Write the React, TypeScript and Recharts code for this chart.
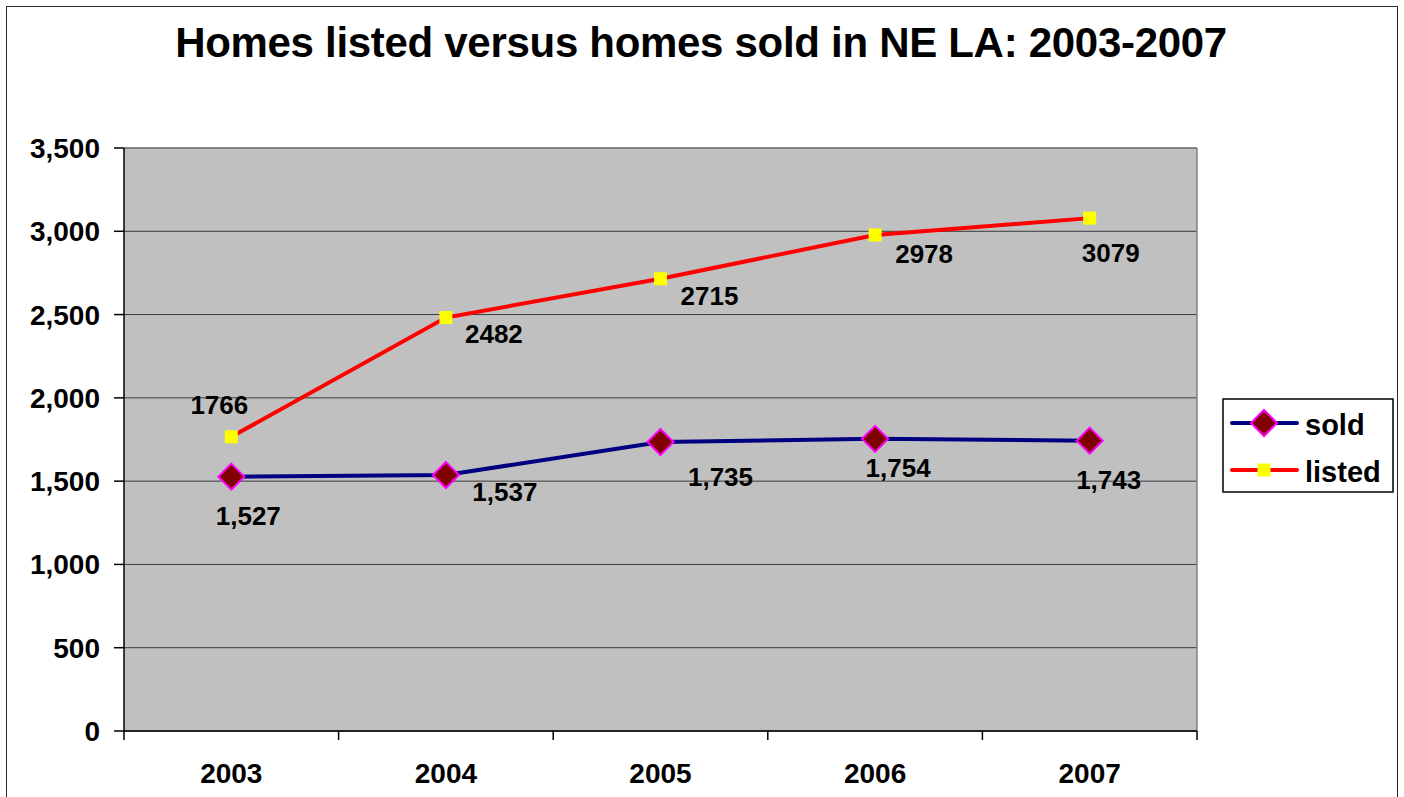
import React from 'react'
import { LineChart, Line, XAxis, YAxis, CartesianGrid, ReferenceLine, LabelList } from 'recharts'

const years = ['2003', '2004', '2005', '2006', '2007']
const sold = [1527, 1537, 1735, 1754, 1743]
const listed = [1766, 2482, 2715, 2978, 3079]
const yTicks = [0, 500, 1000, 1500, 2000, 2500, 3000, 3500]

// the labels were dragged around by hand in the original, so nudge each one
const soldLabelShift = [[17, 39], [59, 17], [60, 35], [23, 29], [19, 39]]
const listedLabelShift = [[-12, -32], [48, 16], [49, 17], [49, 19], [21, 35]]

const data = years.map((year, i) => ({ year, sold: sold[i], listed: listed[i] }))

const FONT = '"Liberation Sans", Arial, Helvetica, sans-serif'
const fmt = (v: number) => v.toLocaleString('en-US')

const W = 1404
const H = 797
const M = { top: 148, right: 207, left: 14, bottom: 0 }
const Y_W = 110
const X_H = 66
const plotW = W - M.left - M.right - Y_W
const halfBand = plotW / years.length / 2

function Diamond({ cx, cy, r = 13 }: { cx: number; cy: number; r?: number }) {
  return (
    <polygon
      points={`${cx},${cy - r} ${cx + r},${cy} ${cx},${cy + r} ${cx - r},${cy}`}
      fill="#800000"
      stroke="#FF00FF"
      strokeWidth={2}
    />
  )
}

function Square({ cx, cy, s = 13 }: { cx: number; cy: number; s?: number }) {
  return <rect x={cx - s / 2} y={cy - s / 2} width={s} height={s} fill="#FFFF00" />
}

const makeLabel = (shift: number[][], withComma: boolean) => (props: any) => {
  const { x, y, value, index } = props
  const [dx, dy] = shift[index] || [0, 0]
  return (
    <text
      key={`lbl-${index}`}
      x={x + dx}
      y={y + dy}
      textAnchor="middle"
      dominantBaseline="central"
      fontFamily={FONT}
      fontWeight="bold"
      fontSize={26}
      fill="#000"
    >
      {withComma ? fmt(value) : String(value)}
    </text>
  )
}

// year label, plus the little tick marks that sit between the categories
function YearTick(props: any) {
  const { x, y, payload, index } = props
  const y0 = y
  return (
    <g>
      <line x1={x - halfBand} y1={y0} x2={x - halfBand} y2={y0 + 9} stroke="#000" strokeWidth={1.5} />
      {index === years.length - 1 && (
        <line x1={x + halfBand} y1={y0} x2={x + halfBand} y2={y0 + 9} stroke="#000" strokeWidth={1.5} />
      )}
      <text
        x={x}
        y={y0 + 32}
        dy="0.71em"
        textAnchor="middle"
        fontFamily={FONT}
        fontWeight="bold"
        fontSize={28}
        fill="#000"
      >
        {payload.value}
      </text>
    </g>
  )
}

function LegendBox() {
  return (
    <svg
      width={172}
      height={95}
      style={{ position: 'absolute', left: 1222, top: 398 }}
    >
      <rect x={1} y={1} width={170} height={93} fill="#fff" stroke="#000" strokeWidth={1.5} />
      <line x1={10} y1={25} x2={75} y2={25} stroke="#000080" strokeWidth={4} strokeLinecap="round" />
      <Diamond cx={42} cy={25} r={13} />
      <text x={83} y={37} fontFamily={FONT} fontWeight="bold" fontSize={29} fill="#000">sold</text>
      <line x1={10} y1={72} x2={75} y2={72} stroke="#FF0000" strokeWidth={4} strokeLinecap="round" />
      <Square cx={42} cy={72} s={13} />
      <text x={83} y={84} fontFamily={FONT} fontWeight="bold" fontSize={29} fill="#000">listed</text>
    </svg>
  )
}

export default function App() {
  return (
    <div
      style={{
        position: 'absolute',
        left: 0,
        top: 0,
        width: W,
        height: H,
        overflow: 'hidden',
        background: '#fff',
        fontFamily: FONT,
      }}
    >
      <div
        style={{
          position: 'absolute',
          left: 6,
          top: 6,
          width: 1390,
          height: 900,
          border: '1px solid #2b2b2b',
        }}
      />
      <div
        style={{
          position: 'absolute',
          left: 0,
          top: 22,
          width: 1402,
          textAlign: 'center',
          fontSize: 42,
          lineHeight: '42px',
          fontWeight: 'bold',
          letterSpacing: -0.3,
          color: '#000',
          whiteSpace: 'nowrap',
        }}
      >
        Homes listed versus homes sold in NE LA: 2003-2007
      </div>

      <div style={{ position: 'absolute', left: 0, top: 0 }}>
        <LineChart width={W} height={H} data={data} margin={M}>
          <CartesianGrid vertical={false} fill="#C0C0C0" stroke="#3a3a3a" fillOpacity={1} />
          <CartesianGrid
            horizontal={false}
            stroke="#808080"
            strokeWidth={1.5}
            verticalCoordinatesGenerator={({ offset }: any) => [offset.left + offset.width]}
          />
          <XAxis
            dataKey="year"
            height={X_H}
            padding={{ left: halfBand, right: halfBand }}
            axisLine={{ stroke: '#000', strokeWidth: 1.5 }}
            tickLine={false}
            tickSize={0}
            tickMargin={0}
            tick={<YearTick />}
            interval={0}
          />
          <YAxis
            width={Y_W}
            domain={[0, 3500]}
            ticks={yTicks}
            tickFormatter={fmt}
            axisLine={{ stroke: '#000', strokeWidth: 1.5 }}
            tickLine={{ stroke: '#000', strokeWidth: 1.5 }}
            tickSize={10}
            tickMargin={14}
            tick={{ fill: '#000', fontSize: 28, fontWeight: 'bold', fontFamily: FONT }}
          />
          <ReferenceLine y={3500} stroke="#808080" strokeWidth={1.5} />
          <Line
            dataKey="sold"
            stroke="#000080"
            strokeWidth={4}
            isAnimationActive={false}
            dot={(p: any) => <Diamond key={`s-${p.index}`} cx={p.cx} cy={p.cy} />}
            activeDot={false}
          >
            <LabelList dataKey="sold" content={makeLabel(soldLabelShift, true)} />
          </Line>
          <Line
            dataKey="listed"
            stroke="#FF0000"
            strokeWidth={4}
            isAnimationActive={false}
            dot={(p: any) => <Square key={`l-${p.index}`} cx={p.cx} cy={p.cy} />}
            activeDot={false}
          >
            <LabelList dataKey="listed" content={makeLabel(listedLabelShift, false)} />
          </Line>
        </LineChart>
      </div>

      <LegendBox />
    </div>
  )
}
